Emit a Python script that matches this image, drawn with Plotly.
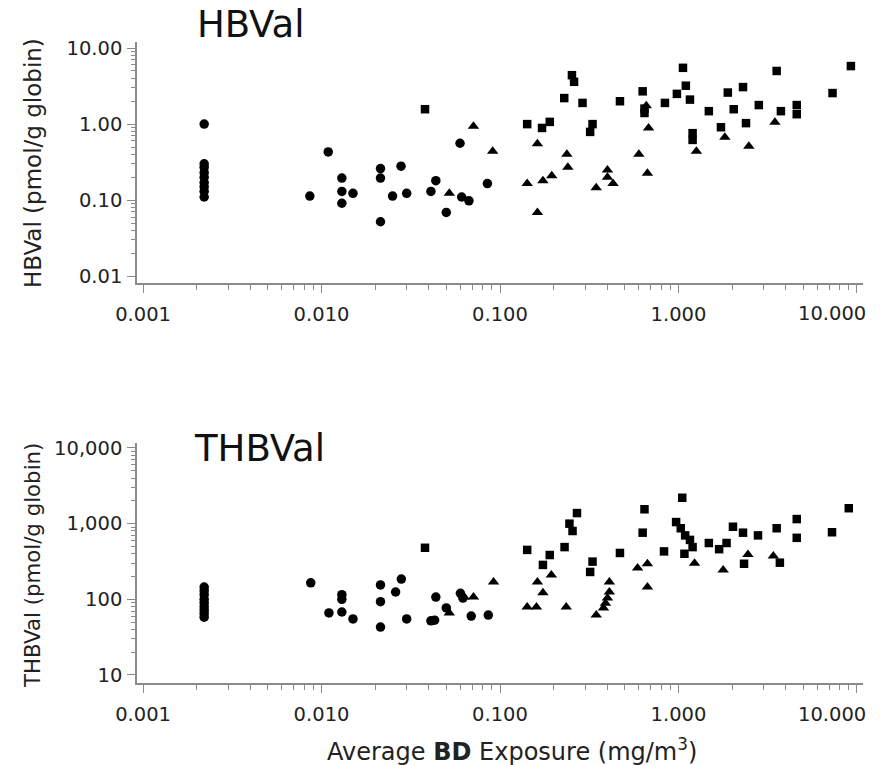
import plotly.graph_objects as go

# ---------------- data ----------------
x_ticks = [0.001, 0.01, 0.1, 1, 10]
x_ticktext = ["0.001", "0.010", "0.100", "1.000", ""]
x_last_label = "10.000"   # drawn right-aligned at the 10 tick, as in the original
hb_yticks = [0.01, 0.1, 1, 10]
hb_ytext = ["0.01", "0.10", "1.00", "10.00"]
thb_yticks = [10, 100, 1000, 10000]
thb_ytext = ["10", "100", "1,000", "10,000"]

# HBVal panel
hb_circle_x = [0.0022, 0.0022, 0.0022, 0.0022, 0.0022, 0.0022, 0.0022, 0.0022, 0.0022,
               0.0086, 0.0109, 0.013, 0.013, 0.015, 0.013, 0.0214, 0.0214, 0.0214,
               0.0279, 0.025, 0.030, 0.0437, 0.041, 0.050, 0.0597, 0.061, 0.067, 0.085]
hb_circle_y = [1.0, 0.30, 0.27, 0.23, 0.20, 0.17, 0.15, 0.13, 0.11,
               0.113, 0.43, 0.195, 0.13, 0.123, 0.091, 0.26, 0.195, 0.052,
               0.28, 0.113, 0.123, 0.18, 0.13, 0.069, 0.56, 0.11, 0.098, 0.165]

hb_tri_x = [0.052, 0.071, 0.091, 0.142, 0.162, 0.162, 0.174, 0.195, 0.237, 0.24,
            0.346, 0.40, 0.40, 0.43, 0.60, 0.67, 0.68, 0.66, 1.26, 1.82, 2.48, 3.47]
hb_tri_y = [0.123, 0.94, 0.44, 0.165, 0.55, 0.069, 0.18, 0.21, 0.40, 0.27,
            0.145, 0.25, 0.20, 0.165, 0.40, 0.226, 0.89, 1.75, 0.44, 0.67, 0.51, 1.06]

hb_sq_x = [0.038, 0.142, 0.172, 0.19, 0.229, 0.253, 0.26, 0.29, 0.33, 0.32,
           0.47, 0.63, 0.645, 0.645, 0.84, 1.06, 1.1, 0.98, 1.16, 1.2, 1.2,
           1.48, 1.89, 2.3, 2.04, 1.73, 2.39, 2.82, 3.55, 3.75, 4.6, 4.6, 7.3, 9.25]
hb_sq_y = [1.57, 1.0, 0.89, 1.07, 2.2, 4.4, 3.6, 1.9, 1.0, 0.79,
           2.0, 2.7, 1.6, 1.4, 1.9, 5.5, 3.2, 2.5, 2.1, 0.76, 0.62,
           1.48, 2.6, 3.07, 1.57, 0.91, 1.03, 1.78, 5.0, 1.48, 1.78, 1.35, 2.56, 5.8]

# THBVal panel
thb_circle_x = [0.0022, 0.0022, 0.0022, 0.0022, 0.0022, 0.0022, 0.0022, 0.0022, 0.0022,
                0.0087, 0.013, 0.013, 0.011, 0.013, 0.015, 0.0214, 0.0214, 0.0214,
                0.026, 0.028, 0.030, 0.041, 0.043, 0.0437, 0.05, 0.06, 0.062, 0.069, 0.086]
thb_circle_y = [145, 130, 115, 100, 90, 80, 72, 65, 58,
                165, 115, 100, 66, 68, 55, 155, 93, 43,
                125, 185, 55, 52, 53, 107, 77, 120, 104, 60, 62]

thb_tri_x = [0.052, 0.063, 0.071, 0.092, 0.142, 0.16, 0.162, 0.174, 0.194, 0.235,
             0.346, 0.38, 0.39, 0.40, 0.41, 0.41, 0.59, 0.67, 0.67, 1.23, 1.78, 2.45, 3.4]
thb_tri_y = [66, 107, 107, 170, 79, 79, 170, 122, 210, 79,
             62, 77, 89, 104, 125, 170, 260, 295, 146, 300, 245, 390, 375]

thb_sq_x = [0.038, 0.142, 0.174, 0.19, 0.23, 0.245, 0.255, 0.27, 0.47, 0.33, 0.32,
            0.645, 0.63, 0.83, 1.05, 0.97, 1.03, 1.09, 1.16, 1.2, 1.08, 1.48, 1.69,
            1.86, 2.02, 2.3, 2.33, 2.79, 3.55, 3.7, 4.6, 4.6, 7.25, 9.0]
thb_sq_y = [480, 450, 285, 385, 490, 1000, 800, 1380, 410, 315, 230,
            1550, 760, 430, 2200, 1050, 870, 700, 610, 490, 400, 555, 460,
            555, 910, 760, 295, 700, 870, 305, 1150, 650, 770, 1600]

# ---------------- figure ----------------
FONT = "DejaVu Sans"
fig = go.Figure()

def add(xs, ys, sym, size, xa, ya):
    fig.add_trace(go.Scatter(x=xs, y=ys, mode="markers", xaxis=xa, yaxis=ya,
                             marker=dict(symbol=sym, size=size, color="black",
                                         line=dict(width=0)),
                             showlegend=False, hoverinfo="x+y"))

add(hb_circle_x, hb_circle_y, "circle", 9.5, "x", "y")
add(hb_tri_x, hb_tri_y, "triangle-up", 10, "x", "y")
add(hb_sq_x, hb_sq_y, "square", 8.5, "x", "y")
add(thb_circle_x, thb_circle_y, "circle", 9.5, "x2", "y2")
add(thb_tri_x, thb_tri_y, "triangle-up", 10, "x2", "y2")
add(thb_sq_x, thb_sq_y, "square", 8.5, "x2", "y2")

def decade_minors(lo, hi):
    vals = []
    for e in range(lo, hi):
        for m in range(2, 10):
            vals.append(m * 10 ** e)
    return vals

AX = "#8a8a8a"
tickfont = dict(family=FONT, size=19.5, color="#222")

def xaxis_style(anchor):
    return dict(type="log", range=[-3.034, 1.034], domain=[0, 1], anchor=anchor,
                automargin=False,
                tickmode="array", tickvals=x_ticks, ticktext=x_ticktext,
                ticks="outside", ticklen=8, tickwidth=1.3, tickcolor=AX,
                showline=True, linecolor=AX, linewidth=1.5, showgrid=False,
                zeroline=False, tickfont=tickfont, ticklabelstandoff=5,
                minor=dict(tickmode="array", tickvals=decade_minors(-3, 1),
                           ticks="outside", ticklen=5, tickwidth=1, tickcolor=AX,
                           showgrid=False))

def yaxis_style(anchor, rng, dom, tv, tt, lo, hi):
    return dict(type="log", range=rng, domain=dom, anchor=anchor,
                automargin=False,
                tickmode="array", tickvals=tv, ticktext=tt,
                ticks="outside", ticklen=8, tickwidth=1.3, tickcolor=AX,
                showline=True, linecolor=AX, linewidth=1.5, showgrid=False,
                zeroline=False, tickfont=tickfont, ticklabelstandoff=1,
                minor=dict(tickmode="array", tickvals=decade_minors(lo, hi),
                           ticks="outside", ticklen=4, tickwidth=1, tickcolor=AX,
                           showgrid=False))

fig.update_layout(
    width=883, height=765,
    margin=dict(l=137, r=20, t=42, b=82, autoexpand=False),
    paper_bgcolor="white", plot_bgcolor="white",
    font=dict(family=FONT, color="#111"),
    xaxis=xaxis_style("y"),
    xaxis2=xaxis_style("y2"),
    yaxis=yaxis_style("x", [-2.09, 1.08], [0.624, 1.0], hb_yticks, hb_ytext, -2, 1),
    yaxis2=yaxis_style("x2", [0.894, 4.066], [0.0, 0.3744], thb_yticks, thb_ytext, 1, 4),
)

ann = [
    dict(text="HBVal", x=0.0799, y=1.027, xanchor="left", yanchor="middle",
         font=dict(family=FONT, size=37, color="#111")),
    dict(text="THBVal", x=0.0758, y=0.3666, xanchor="left", yanchor="middle",
         font=dict(family=FONT, size=37, color="#111")),
    dict(text="HBVal (pmol/g globin)", x=-0.1433, y=0.8112, textangle=-90,
         xanchor="center", yanchor="middle", font=dict(family=FONT, size=23, color="#222")),
    dict(text="THBVal (pmol/g globin)", x=-0.1433, y=0.1841, textangle=-90,
         xanchor="center", yanchor="middle", font=dict(family=FONT, size=21.3, color="#222")),
    dict(text="Average <b>BD</b> Exposure (mg/m<sup>3</sup>)", x=0.5165, y=-0.1045,
         xanchor="center", yanchor="middle", font=dict(family=FONT, size=24, color="#222")),
]
for a in ann:
    a.update(xref="paper", yref="paper", showarrow=False)

# last x tick label on each panel, right-aligned near the axis end
import math
for xr, yv in (("x", 0.5757), ("x2", -0.0484)):
    ann.append(dict(text=x_last_label, xref=xr, yref="paper", x=math.log10(x_ticks[-1]),
                    y=yv, xanchor="right", yanchor="middle", xshift=11, showarrow=False,
                    font=tickfont))
fig.update_layout(annotations=ann)

fig.write_html("out.html", config={"displayModeBar": False},
               post_script="document.body.style.margin='0';")
